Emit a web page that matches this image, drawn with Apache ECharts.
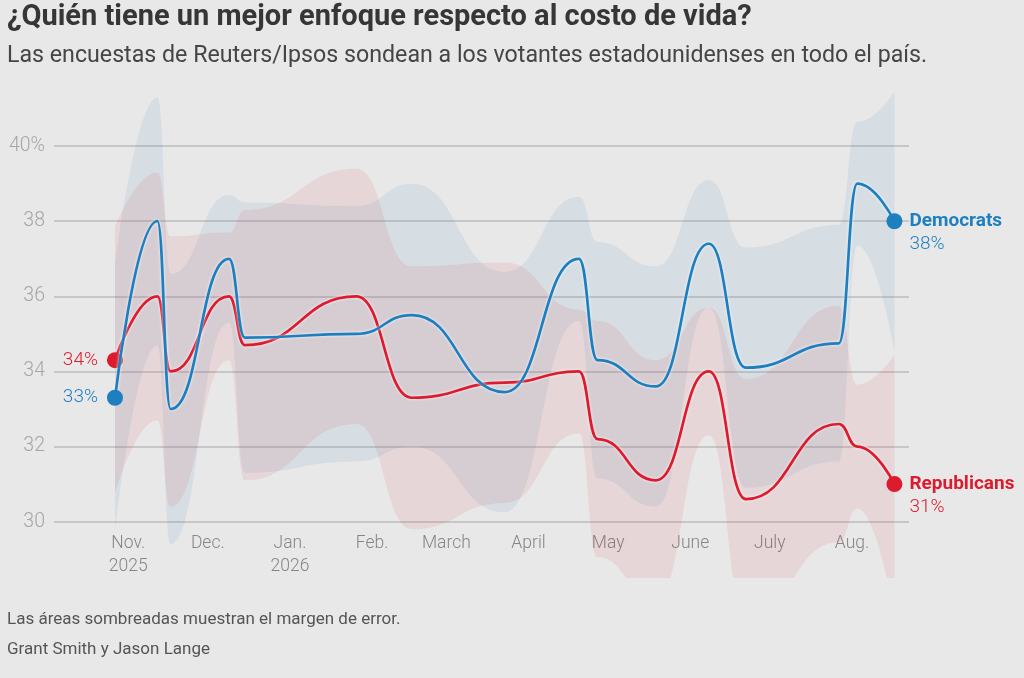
<!DOCTYPE html>
<html>
<head>
<meta charset="utf-8">
<script src="https://cdn.jsdelivr.net/npm/echarts@6/dist/echarts.min.js"></script>
<style>
  html, body { margin: 0; padding: 0; background: #e8e8e8; }
  #chart { width: 1024px; height: 678px; }
</style>
</head>
<body>
<div id="chart"></div>
<script>
var pollDates = ['2025-10-27', '2025-11-12', '2025-11-17', '2025-12-09', '2025-12-15', '2026-01-26',
  '2026-02-16', '2026-03-23', '2026-04-20', '2026-04-27', '2026-05-19', '2026-06-08',
  '2026-06-22', '2026-07-27', '2026-08-03', '2026-08-17'];
var democrats = [33.3, 38.0, 33.0, 37.0, 34.9, 35.0, 35.5, 33.45, 37.0, 34.3, 33.6, 37.4, 34.1, 34.75, 39.0, 38.0];
var republicans = [34.3, 36.0, 34.0, 36.0, 34.7, 36.0, 33.3, 33.7, 34.0, 32.2, 31.1, 34.0, 30.6, 32.6, 32.0, 31.0];
var marginOfError = [3.55, 3.3, 3.6, 1.7, 3.6, 3.4, 3.5, 3.2, 1.65, 3.15, 3.2, 1.7, 3.2, 3.15, 1.65, 3.45];

var monthTicks = ['2025-11-01', '2025-12-01', '2026-01-01', '2026-02-01', '2026-03-01', '2026-04-01',
  '2026-05-01', '2026-06-01', '2026-07-01', '2026-08-01'];
var monthLabels = ['Nov.\n2025', 'Dec.', 'Jan.\n2026', 'Feb.', 'March', 'April', 'May', 'June', 'July', 'Aug.'];
var yTicks = [30, 32, 34, 36, 38, 40];

var BLUE = '#1d7fc0';
var RED = '#dc1c2e';
var FONT = 'Roboto';

var chart = echarts.init(document.getElementById('chart'));

function toTime(d) {
  return Date.parse(d + 'T00:00:00Z');
}

var pollTimes = pollDates.map(toTime);
var tickTimes = monthTicks.map(toTime);

// band data is [value, time] so the stack runs on the value column
function bandLower(values) {
  return values.map(function(v, i) {
    return [v - marginOfError[i], pollTimes[i]];
  });
}

function bandWidth(values) {
  return values.map(function(v, i) {
    return [2 * marginOfError[i], pollTimes[i]];
  });
}

function lineData(values) {
  return values.map(function(v, i) {
    var item = { value: [pollTimes[i], v] };
    if (i === 0) {
      item.label = {
        show: true,
        position: 'left',
        distance: 9,
        formatter: Math.round(v) + '%'
      };
    }
    return item;
  });
}

function bandSeries(values, stack, color) {
  return [{
    type: 'line',
    stack: stack,
    encode: { x: 1, y: 0 },
    data: bandLower(values),
    smooth: 0.5,
    smoothMonotone: 'x',
    symbol: 'none',
    lineStyle: { width: 0, opacity: 0 },
    silent: true
  }, {
    type: 'line',
    stack: stack,
    encode: { x: 1, y: 0 },
    data: bandWidth(values),
    smooth: 0.5,
    smoothMonotone: 'x',
    symbol: 'none',
    lineStyle: { width: 0, opacity: 0 },
    areaStyle: { color: color, opacity: 1 },
    silent: true
  }];
}

function partyLine(name, values, color, z) {
  var last = values[values.length - 1];
  return {
    name: name,
    type: 'line',
    data: lineData(values),
    smooth: 0.5,
    smoothMonotone: 'x',
    symbol: 'circle',
    symbolSize: function(v, p) {
      return (p.dataIndex === 0 || p.dataIndex === values.length - 1) ? 16 : 0;
    },
    itemStyle: { color: color },
    lineStyle: {
      width: 2.7,
      color: color,
      shadowColor: 'rgba(255,255,255,0.9)',
      shadowBlur: 3
    },
    label: {
      color: color,
      fontFamily: FONT,
      fontWeight: 300,
      fontSize: 19
    },
    endLabel: {
      show: true,
      distance: 15,
      offset: [0, 12],
      formatter: '{n|' + name + '}\n{v|' + Math.round(last) + '%}',
      rich: {
        n: { fontFamily: FONT, fontWeight: 'bold', fontSize: 19, color: color, lineHeight: 23 },
        v: { fontFamily: FONT, fontWeight: 300, fontSize: 19, color: color, lineHeight: 23 }
      }
    },
    z: z
  };
}

var option = {
  backgroundColor: '#e8e8e8',
  animation: false,
  title: [{
    text: '¿Quién tiene un mejor enfoque respecto al costo de vida?',
    left: 7, top: 3, padding: 0,
    textStyle: { fontFamily: FONT, fontWeight: 'bold', fontSize: 29, color: '#363636' }
  }, {
    text: 'Las encuestas de Reuters/Ipsos sondean a los votantes estadounidenses en todo el país.',
    left: 7, top: 45, padding: 0,
    textStyle: { fontFamily: FONT, fontWeight: 'normal', fontSize: 23.2, color: '#454545' }
  }, {
    text: 'Las áreas sombreadas muestran el margen de error.',
    left: 7, top: 611, padding: 0,
    textStyle: { fontFamily: FONT, fontWeight: 'normal', fontSize: 17, color: '#555' }
  }, {
    text: 'Grant Smith y Jason Lange',
    left: 7, top: 641, padding: 0,
    textStyle: { fontFamily: FONT, fontWeight: 'normal', fontSize: 17, color: '#555' }
  }],
  grid: {
    left: 54,
    right: 115,
    top: 71,
    bottom: 100
  },
  xAxis: {
    type: 'value',
    min: toTime('2025-10-04'),
    max: toTime('2026-08-22') + 12 * 3600 * 1000,
    axisLine: { show: false },
    axisTick: { show: false, customValues: tickTimes },
    splitLine: { show: false },
    axisLabel: {
      customValues: tickTimes,
      hideOverlap: false,
      margin: -46,
      color: '#858585',
      fontFamily: FONT,
      fontWeight: 300,
      fontSize: 17.5,
      lineHeight: 23,
      formatter: function(value) {
        var i = tickTimes.indexOf(value);
        return i >= 0 ? monthLabels[i] : '';
      }
    }
  },
  yAxis: {
    type: 'value',
    min: 28.5,
    max: 42,
    axisLine: { show: false },
    axisTick: { show: false, customValues: yTicks },
    splitLine: { lineStyle: { color: '#bdbdbd', width: 1.5 } },
    axisLabel: {
      customValues: yTicks,
      margin: 9,
      color: '#a6a6a6',
      fontFamily: FONT,
      fontWeight: 300,
      fontSize: 19.5,
      formatter: function(v) {
        return v === yTicks[yTicks.length - 1] ? v + '%' : v;
      }
    }
  },
  series: bandSeries(democrats, 'dem', 'rgba(29,127,192,0.09)')
    .concat(bandSeries(republicans, 'rep', 'rgba(220,28,46,0.09)'))
    .concat([
      partyLine('Republicans', republicans, RED, 5),
      partyLine('Democrats', democrats, BLUE, 6)
    ])
};

chart.setOption(option);
</script>
</body>
</html>
